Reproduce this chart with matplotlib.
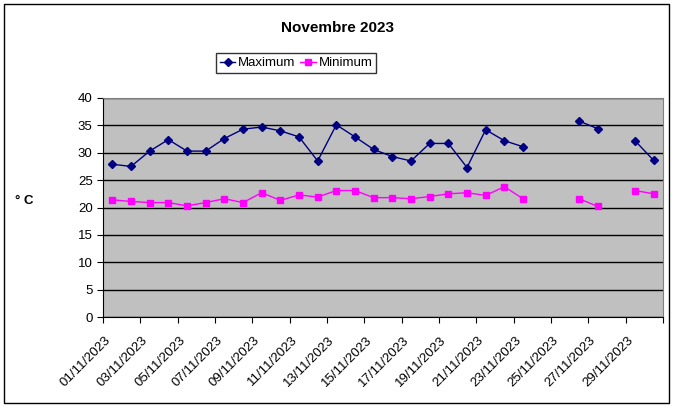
import numpy as np
import matplotlib.pyplot as plt
import matplotlib.transforms as mtransforms

plt.rcParams['font.family'] = ['Liberation Sans', 'DejaVu Sans']

days = ['%02d/11/2023' % d for d in range(1, 31)]
nan = np.nan
t_max = [27.9, 27.5, 30.3, 32.4, 30.3, 30.3, 32.6, 34.3, 34.7, 34.0,
         32.9, 28.5, 35.1, 32.9, 30.6, 29.3, 28.5, 31.7, 31.7, 27.3,
         34.2, 32.2, 31.1, nan, nan, 35.8, 34.4, nan, 32.2, 28.6]
t_min = [21.4, 21.1, 20.9, 20.9, 20.3, 20.9, 21.6, 20.9, 22.7, 21.3,
         22.3, 21.9, 23.1, 23.1, 21.8, 21.8, 21.6, 22.0, 22.5, 22.7,
         22.2, 23.8, 21.6, nan, nan, 21.6, 20.2, nan, 23.1, 22.5]

fig = plt.figure(figsize=(6.75, 4.07), dpi=100)
ax = fig.add_axes([103/675, 1-317/407, 560/675, 219/407])
ax.set_facecolor('#c0c0c0')

x = np.arange(len(days))
ax.plot(x, t_max, color='#000080', lw=1, marker='D', ms=4, label='Maximum')
ax.plot(x, t_min, color='#ff00ff', lw=1, marker='s', ms=5, label='Minimum')

ax.set_xlim(-0.5, len(days) - 0.5)
ax.set_ylim(0, 40)
ax.set_yticks(range(0, 41, 5))
ax.yaxis.grid(True, color='black', lw=1)
ax.set_axisbelow(True)
ax.tick_params(axis='y', direction='out', length=4, labelsize=9.5, color='black')

ax.set_xticks(np.arange(-0.5, len(days), 2))
ax.set_xticklabels([])
ax.tick_params(axis='x', which='major', direction='out', length=4)
ax.set_xticks(x[::2], minor=True)
ax.set_xticklabels(days[::2], minor=True, rotation=45, ha='right',
                   rotation_mode='anchor', fontsize=9.5)
ax.tick_params(axis='x', which='minor', length=0, pad=6)
shift = mtransforms.ScaledTranslation(-0.08, -0.09, fig.dpi_scale_trans)
for lbl in ax.get_xticklabels(minor=True):
    lbl.set_transform(lbl.get_transform() + shift)

for s in ['top', 'right']:
    ax.spines[s].set_color('#808080')

ax.set_ylabel('° C', rotation=0, fontsize=9.5, fontweight='bold', labelpad=0)
ax.yaxis.set_label_coords(-0.14, 0.5)

fig.text(0.50, 0.932, 'Novembre 2023', ha='center', va='center',
         fontsize=11, fontweight='bold')
leg = fig.legend(loc='center', bbox_to_anchor=(296/675, 1-63/407), ncol=2,
                 fontsize=9.5, frameon=True, fancybox=False, edgecolor='black',
                 handlelength=1.2, columnspacing=0.35, handletextpad=0.2,
                 borderpad=0.3, borderaxespad=0)
leg.get_frame().set_linewidth(1)

fig.patches.append(plt.Rectangle((4/675, 4/407), 665/675, 399/407,
                                 transform=fig.transFigure, fill=False,
                                 edgecolor='black', lw=1))
fig.savefig('out.png', dpi=100)
